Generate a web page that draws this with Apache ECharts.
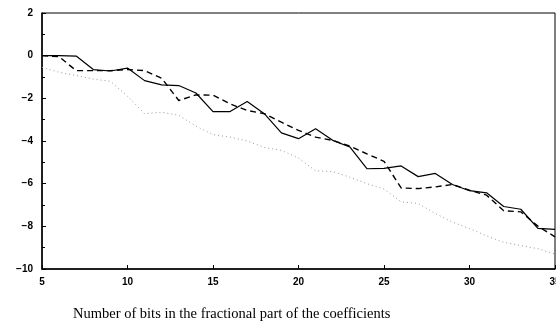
<!DOCTYPE html>
<html>
<head>
<meta charset="utf-8">
<script src="https://cdn.jsdelivr.net/npm/echarts@6/dist/echarts.min.js"></script>
<style>html,body{margin:0;padding:0;background:#fff}#c{width:556px;height:324px}</style>
</head>
<body>
<div id="c"></div>
<script>
var bits = [5,6,7,8,9,10,11,12,13,14,15,16,17,18,19,20,21,22,23,24,25,26,27,28,29,30,31,32,33,34,35];
var solidVals = [0,0,-0.02,-0.65,-0.72,-0.58,-1.17,-1.37,-1.4,-1.75,-2.62,-2.62,-2.15,-2.72,-3.62,-3.89,-3.43,-3.97,-4.28,-5.3,-5.28,-5.17,-5.67,-5.52,-6.04,-6.33,-6.43,-7.07,-7.2,-8.1,-8.14];
var dashedVals = [0,-0.05,-0.7,-0.7,-0.7,-0.65,-0.7,-1.06,-2.1,-1.84,-1.85,-2.26,-2.57,-2.72,-3.12,-3.5,-3.82,-3.97,-4.24,-4.6,-4.95,-6.2,-6.23,-6.15,-6.04,-6.31,-6.54,-7.27,-7.32,-7.99,-8.49];
var dottedVals = [-0.55,-0.78,-0.93,-1.1,-1.2,-1.9,-2.72,-2.65,-2.8,-3.3,-3.7,-3.82,-4.0,-4.3,-4.44,-4.8,-5.4,-5.43,-5.7,-6.0,-6.25,-6.85,-6.93,-7.4,-7.8,-8.1,-8.45,-8.75,-8.9,-9.05,-9.3];
var xTicks = [5,10,15,20,25,30,35];
var yTicks = [-10,-8,-6,-4,-2,0,2];
var xTitle = 'Number of bits in the fractional part of the coefficients';

function pairs(v){ return bits.map(function(b,i){ return [b, v[i]]; }); }
function fmtY(v){ return String(v).replace('-', '\u2212'); }

var chart = echarts.init(document.getElementById('c'), null, {renderer:'canvas'});
var labelFont = {color:'#000', fontFamily:'Liberation Sans', fontWeight:'bold', fontSize:10};
chart.setOption({
  animation:false,
  backgroundColor:'#fff',
  title:{text:xTitle, left:68, top:302, textStyle:{color:'#000', fontFamily:'Liberation Serif', fontWeight:'normal', fontSize:14.5}},
  grid:{left:42, right:1, top:13, bottom:55, show:true, borderColor:'#000', borderWidth:1, outerBoundsMode:'none', containLabel:false},
  xAxis:{
    type:'value', min:xTicks[0], max:xTicks[xTicks.length-1], interval:5,
    axisLine:{show:true, onZero:false, lineStyle:{color:'#000', width:1.5}},
    axisTick:{show:true, inside:true, length:4, lineStyle:{color:'#000'}},
    splitLine:{show:false},
    axisLabel:Object.assign({margin:8, showMinLabel:true, showMaxLabel:true, hideOverlap:false}, labelFont)
  },
  yAxis:{
    type:'value', min:yTicks[0], max:yTicks[yTicks.length-1], interval:2,
    axisLine:{show:true, onZero:false, lineStyle:{color:'#000', width:1.5}},
    axisTick:{show:true, inside:true, length:4, lineStyle:{color:'#000'}},
    minorTick:{show:true, splitNumber:2, length:3, lineStyle:{color:'#000'}},
    splitLine:{show:false},
    axisLabel:Object.assign({margin:9, formatter:fmtY}, labelFont)
  },
  series:[
    {type:'line', data:pairs(solidVals), symbol:'none', lineStyle:{color:'#000', width:1.2, type:'solid'}},
    {type:'line', data:pairs(dashedVals), symbol:'none', lineStyle:{color:'#000', width:1.4, type:[6,4]}},
    {type:'line', data:pairs(dottedVals), symbol:'none', lineStyle:{color:'#999', width:1, type:[1,3]}}
  ]
});
</script>
</body>
</html>
